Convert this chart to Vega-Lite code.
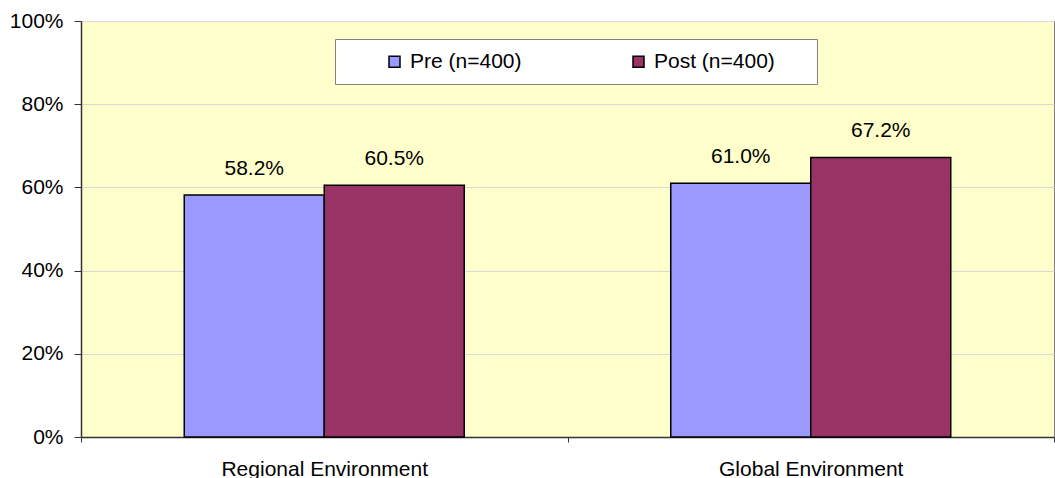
{
  "$schema": "https://vega.github.io/schema/vega-lite/v6.json",
  "width": 973,
  "height": 416,
  "autosize": {"type": "none"},
  "padding": {"left": 81, "top": 21, "right": 1, "bottom": 41},
  "background": "#FFFFFF",
  "data": {
    "values": [
      {"region": "Regional Environment", "wave": "Pre (n=400)", "share": 0.582},
      {"region": "Regional Environment", "wave": "Post (n=400)", "share": 0.605},
      {"region": "Global Environment", "wave": "Pre (n=400)", "share": 0.610},
      {"region": "Global Environment", "wave": "Post (n=400)", "share": 0.672}
    ]
  },
  "encoding": {
    "x": {
      "field": "region",
      "type": "nominal",
      "sort": null,
      "scale": {"paddingInner": 0, "paddingOuter": 0},
      "axis": {
        "title": null,
        "labelAngle": 0,
        "labelLimit": 400,
        "tickBand": "extent",
        "tickSize": 5,
        "labelPadding": 16,
        "domainColor": "#333333",
        "tickColor": "#333333",
        "grid": false
      }
    },
    "xOffset": {
      "field": "wave",
      "sort": ["Pre (n=400)", "Post (n=400)"],
      "scale": {"paddingInner": 0, "paddingOuter": 0.7375}
    },
    "y": {
      "field": "share",
      "type": "quantitative",
      "scale": {"domain": [0, 1], "nice": false},
      "axis": {
        "title": null,
        "format": "%",
        "values": [0, 0.2, 0.4, 0.6, 0.8, 1],
        "tickSize": 7,
        "labelPadding": 11,
        "domainColor": "#333333",
        "tickColor": "#333333",
        "gridColor": "#D9D9D9",
        "labelBaseline": "middle"
      }
    }
  },
  "layer": [
    {
      "mark": {"type": "bar", "stroke": "#000000", "strokeWidth": 1.5},
      "encoding": {
        "color": {
          "field": "wave",
          "type": "nominal",
          "sort": ["Pre (n=400)", "Post (n=400)"],
          "scale": {"domain": ["Pre (n=400)", "Post (n=400)"], "range": ["#9999FF", "#993366"]},
          "legend": {
            "orient": "none",
            "legendX": 254,
            "legendY": 18,
            "direction": "horizontal",
            "columns": 2,
            "title": " ",
            "titleOrient": "left",
            "titleFontSize": 1,
            "titlePadding": 37,
            "padding": 12,
            "fillColor": "#FFFFFF",
            "strokeColor": "#808080",
            "symbolType": "square",
            "symbolSize": 121,
            "symbolStrokeColor": "#000000",
            "symbolStrokeWidth": 1.5,
            "symbolOpacity": 1,
            "labelOffset": 5,
            "columnPadding": 106,
            "labelFontSize": 21,
            "labelLimit": 400,
            "labelFont": "Liberation Sans",
            "labelColor": "#000000",
            "labelExpr": "datum.label == 'Post (n=400)' ? datum.label + '\u2800\u2800' : datum.label"
          }
        }
      }
    },
    {
      "mark": {"type": "text", "baseline": "alphabetic", "dy": -20, "fontSize": 21, "font": "Liberation Sans", "color": "#000000"},
      "encoding": {
        "text": {"field": "share", "type": "quantitative", "format": ".1%"}
      }
    }
  ],
  "config": {
    "view": {"fill": "#FFFFCC", "stroke": "#808080", "strokeWidth": 1},
    "axis": {
      "labelFont": "Liberation Sans",
      "labelFontSize": 21,
      "labelColor": "#000000",
      "domainWidth": 1.5,
      "tickWidth": 1
    }
  }
}
